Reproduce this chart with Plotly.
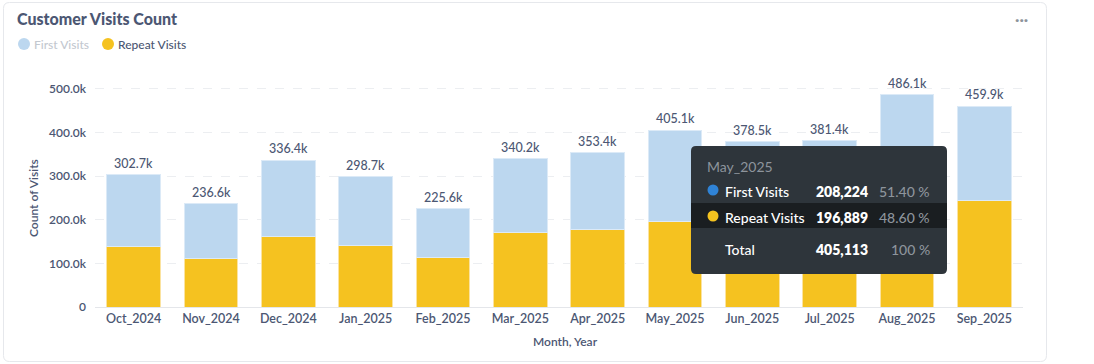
import plotly.graph_objects as go

# ---- data ----
months = ["Oct_2024", "Nov_2024", "Dec_2024", "Jan_2025", "Feb_2025", "Mar_2025",
          "Apr_2025", "May_2025", "Jun_2025", "Jul_2025", "Aug_2025", "Sep_2025"]
first_visits = [164700, 125100, 175900, 157700, 112600, 170500,
                176400, 208224, 192500, 191400, 250100, 215400]
repeat_visits = [138000, 111500, 160500, 141000, 113000, 169700,
                 177000, 196889, 186000, 190000, 236000, 244500]
y_tickvals = [0, 100000, 200000, 300000, 400000, 500000]
y_ticktext = ["0", "100.0k", "200.0k", "300.0k", "400.0k", "500.0k"]
hover_month = "May_2025"

# ---- geometry helpers ----
W, H = 1094, 364
L, R, T, B = 95, 71, 78, 57
PW, PH = W - L - R, H - T - B
BOTTOM = H - B

def px(x):
    return (x - L) / PW

def py(y):
    return (BOTTOM - y) / PH

def rounded_rect(x0, y0, x1, y1, r):
    pts = [
        ("M", [(x0 + r, y0)]),
        ("L", [(x1 - r, y0)]),
        ("Q", [(x1, y0), (x1, y0 + r)]),
        ("L", [(x1, y1 - r)]),
        ("Q", [(x1, y1), (x1 - r, y1)]),
        ("L", [(x0 + r, y1)]),
        ("Q", [(x0, y1), (x0, y1 - r)]),
        ("L", [(x0, y0 + r)]),
        ("Q", [(x0, y0), (x0 + r, y0)]),
    ]
    s = ""
    for cmd, ps in pts:
        s += cmd + " " + " ".join(f"{px(a):.5f},{py(b):.5f}" for a, b in ps) + " "
    return s + "Z"

FONT = "Lato, 'Noto Sans', sans-serif"
TXT = "#4c5773"
BLUE = "#bcd7ef"
YELLOW = "#f5c220"
WB = 600  # weight for chart texts

totals = [f + r for f, r in zip(first_visits, repeat_visits)]

fig = go.Figure()
fig.add_trace(go.Bar(x=months, y=repeat_visits, name="Repeat Visits",
                     marker=dict(color=YELLOW, line=dict(color="#fbe3a0", width=1))))
fig.add_trace(go.Bar(x=months, y=first_visits, name="First Visits",
                     marker=dict(color=BLUE, line=dict(color="#dceaf7", width=1))))

annotations = []
for m, t in zip(months, totals):
    annotations.append(dict(x=m, y=t, xref="x", yref="y", text=f"{t/1000:.1f}k",
                            showarrow=False, yanchor="bottom", yshift=2,
                            font=dict(family=FONT, size=12.5, color=TXT, weight=500)))

shapes = []
# card border
shapes.append(dict(type="path", xref="paper", yref="paper",
                   path=rounded_rect(3.5, 2.5, 1046.5, 361.5, 6),
                   line=dict(color="#e6e8ec", width=1), fillcolor="rgba(0,0,0,0)", layer="below"))

# title, legend, menu
annotations.append(dict(x=px(15), y=py(19), xref="paper", yref="paper", text="Customer Visits Count",
                        showarrow=False, xanchor="left", yanchor="middle",
                        font=dict(family=FONT, size=16, color=TXT, weight=900)))
annotations.append(dict(x=px(1021), y=py(18), xref="paper", yref="paper", text="···",
                        showarrow=False, xanchor="center", yanchor="middle",
                        font=dict(family=FONT, size=16, color="#8d949c", weight=700)))
legend_items = [("First Visits", BLUE, "#c3c8d0", 24), ("Repeat Visits", YELLOW, TXT, 108)]
for name, col, tcol, cx in legend_items:
    shapes.append(dict(type="circle", xref="paper", yref="paper",
                       x0=px(cx - 6), x1=px(cx + 6), y0=py(44 + 6), y1=py(44 - 6),
                       fillcolor=col, line=dict(width=0)))
    annotations.append(dict(x=px(cx + 8), y=py(44), xref="paper", yref="paper", text=name,
                            showarrow=False, xanchor="left", yanchor="middle",
                            font=dict(family=FONT, size=12, color=tcol, weight=500)))

# axis titles
annotations.append(dict(x=px(33), y=py(198), xref="paper", yref="paper", text="Count of Visits",
                        showarrow=False, textangle=-90, xanchor="center", yanchor="middle",
                        font=dict(family=FONT, size=12, color=TXT, weight=WB)))
annotations.append(dict(x=px(565), y=py(341), xref="paper", yref="paper", text="Month, Year",
                        showarrow=False, xanchor="center", yanchor="middle",
                        font=dict(family=FONT, size=12, color=TXT, weight=WB)))

# tooltip
hi = months.index(hover_month)
hf, hr = first_visits[hi], repeat_visits[hi]
ht = hf + hr
shapes.append(dict(type="path", xref="paper", yref="paper",
                   path=rounded_rect(691, 146, 947, 274, 5),
                   line=dict(width=0), fillcolor="#2e353b", layer="above"))
shapes.append(dict(type="rect", xref="paper", yref="paper",
                   x0=px(691), x1=px(947), y0=py(228), y1=py(203),
                   line=dict(width=0), fillcolor="#1a1e21", layer="above"))
GRAY = "#8d949c"
TF = 14
annotations.append(dict(x=px(705), y=py(166), xref="paper", yref="paper", text=hover_month,
                        showarrow=False, xanchor="left", yanchor="middle",
                        font=dict(family=FONT, size=TF, color=GRAY)))
rows = [("First Visits", hf, "#2f83d6", 190), ("Repeat Visits", hr, "#f5c31f", 216)]
for name, v, col, yy in rows:
    shapes.append(dict(type="circle", xref="paper", yref="paper",
                       x0=px(713 - 5.5), x1=px(713 + 5.5), y0=py(yy + 5.5), y1=py(yy - 5.5),
                       fillcolor=col, line=dict(width=0), layer="above"))
    annotations.append(dict(x=px(723), y=py(yy + 1), xref="paper", yref="paper", text=name,
                            showarrow=False, xanchor="left", yanchor="middle",
                            font=dict(family=FONT, size=TF, color="#ffffff", weight=500)))
    annotations.append(dict(x=px(870), y=py(yy + 1), xref="paper", yref="paper", text=f"{v:,}",
                            showarrow=False, xanchor="right", yanchor="middle",
                            font=dict(family=FONT, size=TF, color="#ffffff", weight=800)))
    annotations.append(dict(x=px(932), y=py(yy + 1), xref="paper", yref="paper", text=f"{v/ht*100:.2f} %",
                            showarrow=False, xanchor="right", yanchor="middle",
                            font=dict(family=FONT, size=TF, color=GRAY, weight=500)))
annotations.append(dict(x=px(723), y=py(249), xref="paper", yref="paper", text="Total",
                        showarrow=False, xanchor="left", yanchor="middle",
                        font=dict(family=FONT, size=TF, color="#ffffff", weight=500)))
annotations.append(dict(x=px(870), y=py(249), xref="paper", yref="paper", text=f"{ht:,}",
                        showarrow=False, xanchor="right", yanchor="middle",
                        font=dict(family=FONT, size=TF, color="#ffffff", weight=800)))
annotations.append(dict(x=px(932), y=py(249), xref="paper", yref="paper", text="100 %",
                        showarrow=False, xanchor="right", yanchor="middle",
                        font=dict(family=FONT, size=TF, color=GRAY, weight=500)))

fig.update_layout(
    width=W, height=H, barmode="stack", bargap=0.31,
    margin=dict(l=L, r=R, t=T, b=B, autoexpand=False),
    paper_bgcolor="white", plot_bgcolor="white",
    showlegend=False, font=dict(family=FONT, color=TXT),
    annotations=annotations, shapes=shapes,
    xaxis=dict(showgrid=False, showline=True, linecolor="#e4e6ea", linewidth=1,
               ticks="", tickfont=dict(family=FONT, size=12.5, color=TXT, weight=WB), fixedrange=True),
    yaxis=dict(range=[0, 525000], tickvals=y_tickvals, ticktext=y_ticktext,
               showgrid=True, gridcolor="#eceef1", griddash="dash", gridwidth=1,
               zeroline=False, showline=False, ticks="", ticklabelstandoff=8,
               tickfont=dict(family=FONT, size=12, color=TXT, weight=WB), fixedrange=True),
)

fig.write_html("out.html", config={"displayModeBar": False},
               post_script="document.body.style.margin='0';document.body.style.padding='0';")
